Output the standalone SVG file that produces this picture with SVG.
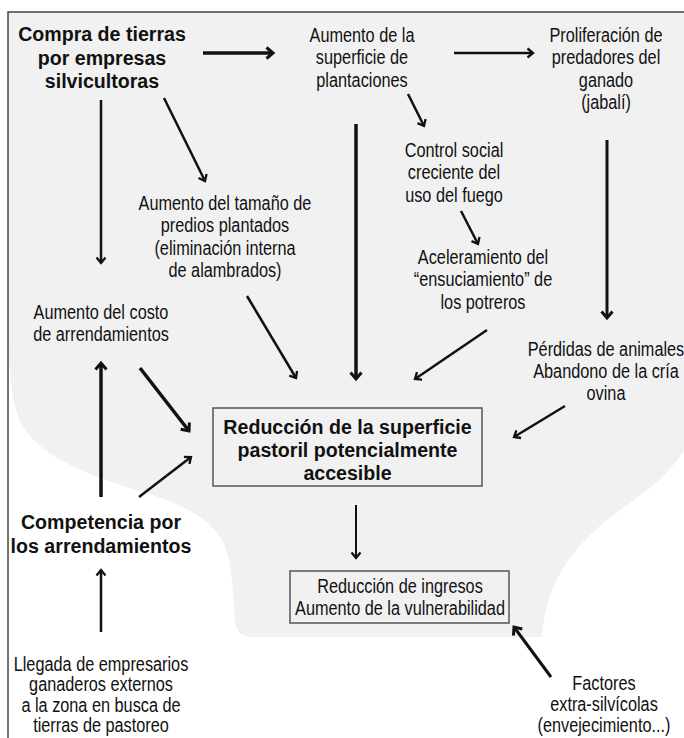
<svg xmlns="http://www.w3.org/2000/svg" width="684" height="738" viewBox="0 0 684 738">
<style>
.n{font-family:"Liberation Sans",Arial,sans-serif;font-size:19.5px;fill:#111;text-anchor:middle}
.b{font-family:"Liberation Sans",Arial,sans-serif;font-size:19.6px;font-weight:bold;fill:#111;text-anchor:middle}
.box{fill:none;stroke:#555;stroke-width:1.5}
.a{stroke:#111;fill:none;stroke-width:2.5}
.t{stroke-width:3.5}
.m{stroke-width:3}
.s{stroke-width:2}
</style>
<defs>
<marker id="h" markerUnits="userSpaceOnUse" markerWidth="16" markerHeight="16" viewBox="-12 -8 16 16" refX="0" refY="0" orient="auto">
<path d="M-6.5,-5.5 L0,0 L-6.5,5.5" fill="none" stroke="#111" stroke-width="3"/>
</marker>
<marker id="hs" markerUnits="userSpaceOnUse" markerWidth="16" markerHeight="16" viewBox="-12 -8 16 16" refX="0" refY="0" orient="auto">
<path d="M-5.5,-4.5 L0,0 L-5.5,4.5" fill="none" stroke="#111" stroke-width="2.3"/>
</marker>
</defs>
<rect x="0" y="0" width="684" height="738" fill="#fff"/>
<path id="background" d="M8,12 L684,12 L684,450 C660,490 620,505 590,535 C560,565 545,595 542,637 L252,637 Q236,637 235,620 C233,590 232,560 222,540 C205,512 170,500 130,488 C80,472 40,455 22,425 C14,410 10,385 8,345 Z" fill="#f1f1f1"/>
<path id="frame" d="M8,738 L8,12 L684,12" fill="none" stroke="#444" stroke-width="1.5"/>

<g id="connectors">
<line class="a t" x1="203" y1="53" x2="273" y2="53" marker-end="url(#h)"/>
<line class="a" x1="454" y1="53" x2="533" y2="53" marker-end="url(#hs)"/>
<line class="a" x1="101" y1="100" x2="101" y2="263" marker-end="url(#hs)"/>
<line class="a" x1="164" y1="98" x2="205" y2="181" marker-end="url(#hs)"/>
<line class="a" x1="408" y1="94" x2="424" y2="126" marker-end="url(#hs)"/>
<line class="a t" x1="356" y1="124" x2="356" y2="379" marker-end="url(#h)"/>
<line class="a m" x1="607" y1="140" x2="607" y2="318" marker-end="url(#h)"/>
<line class="a" x1="461" y1="211" x2="478" y2="244" marker-end="url(#hs)"/>
<line class="a" x1="247" y1="296" x2="296" y2="378" marker-end="url(#hs)"/>
<line class="a" x1="487" y1="330" x2="415" y2="379" marker-end="url(#hs)"/>
<line class="a" x1="565" y1="406" x2="514" y2="437" marker-end="url(#hs)"/>
<line class="a t" x1="140" y1="368" x2="189" y2="431" marker-end="url(#h)"/>
<line class="a t" x1="101" y1="497" x2="101" y2="363" marker-end="url(#h)"/>
<line class="a" x1="139" y1="497" x2="191" y2="457" marker-end="url(#hs)"/>
<line class="a s" x1="356" y1="505" x2="356" y2="558" marker-end="url(#hs)"/>
<line class="a" x1="101" y1="632" x2="101" y2="570" marker-end="url(#hs)"/>
<line class="a m" x1="551" y1="677" x2="514" y2="627" marker-end="url(#h)"/>
</g>

<g id="compra">
<text class="b"><tspan x="102" y="41">Compra de tierras</tspan><tspan x="102" y="64.5">por empresas</tspan><tspan x="102" y="88">silvicultoras</tspan></text>
</g>
<g id="plantaciones">
<text class="n" transform="translate(362,0) scale(0.835,1)"><tspan x="0" y="42">Aumento de la</tspan><tspan x="0" y="64.5">superficie de</tspan><tspan x="0" y="87">plantaciones</tspan></text>
</g>
<g id="proliferacion">
<text class="n" transform="translate(606,0) scale(0.835,1)"><tspan x="0" y="42">Proliferación de</tspan><tspan x="0" y="64.5">predadores del</tspan><tspan x="0" y="87">ganado</tspan><tspan x="0" y="109.5">(jabalí)</tspan></text>
</g>
<g id="control">
<text class="n" transform="translate(454,0) scale(0.835,1)"><tspan x="0" y="157">Control social</tspan><tspan x="0" y="179.5">creciente del</tspan><tspan x="0" y="202">uso del fuego</tspan></text>
</g>
<g id="tamano">
<text class="n" transform="translate(225,0) scale(0.835,1)"><tspan x="0" y="210">Aumento del tamaño de</tspan><tspan x="0" y="232.5">predios plantados</tspan><tspan x="0" y="255">(eliminación interna</tspan><tspan x="0" y="277.5">de alambrados)</tspan></text>
</g>
<g id="aceleramiento">
<text class="n" transform="translate(483,0) scale(0.835,1)"><tspan x="0" y="264">Aceleramiento del</tspan><tspan x="0" y="286.5">“ensuciamiento” de</tspan><tspan x="0" y="309">los potreros</tspan></text>
</g>
<g id="costo">
<text class="n" transform="translate(101,0) scale(0.835,1)"><tspan x="0" y="319">Aumento del costo</tspan><tspan x="0" y="341">de arrendamientos</tspan></text>
</g>
<g id="perdidas">
<text class="n" transform="translate(606,0) scale(0.835,1)"><tspan x="0" y="356">Pérdidas de animales</tspan><tspan x="0" y="378">Abandono de la cría</tspan><tspan x="0" y="400">ovina</tspan></text>
</g>
<g id="reduccion-superficie">
<rect class="box" x="213" y="408" width="269" height="78"/>
<text class="b"><tspan x="347.5" y="434">Reducción de la superficie</tspan><tspan x="347.5" y="457">pastoril potencialmente</tspan><tspan x="347.5" y="480">accesible</tspan></text>
</g>
<g id="competencia">
<text class="b"><tspan x="101" y="529">Competencia por</tspan><tspan x="101" y="553">los arrendamientos</tspan></text>
</g>
<g id="reduccion-ingresos">
<rect class="box" x="290" y="571" width="219" height="52"/>
<text class="n" transform="translate(400,0) scale(0.835,1)"><tspan x="0" y="593">Reducción de ingresos</tspan><tspan x="0" y="615">Aumento de la vulnerabilidad</tspan></text>
</g>
<g id="llegada">
<text class="n" transform="translate(101,0) scale(0.835,1)"><tspan x="0" y="671">Llegada de empresarios</tspan><tspan x="0" y="691.5">ganaderos externos</tspan><tspan x="0" y="712">a la zona en busca de</tspan><tspan x="0" y="732">tierras de pastoreo</tspan></text>
</g>
<g id="factores">
<text class="n" transform="translate(604,0) scale(0.835,1)"><tspan x="0" y="690">Factores</tspan><tspan x="0" y="711">extra-silvícolas</tspan><tspan x="0" y="732">(envejecimiento...)</tspan></text>
</g>
</svg>
